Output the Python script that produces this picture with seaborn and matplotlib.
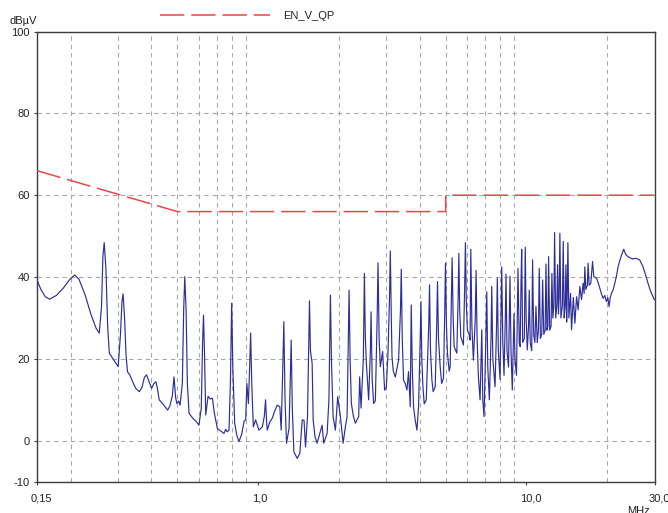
import matplotlib
matplotlib.use("Agg")
import matplotlib.pyplot as plt
import matplotlib.transforms as mtransforms
from matplotlib.ticker import FixedLocator, NullFormatter, FixedFormatter
import seaborn as sns
import pandas as pd

# ---------------- data ----------------
# Limit line EN_V_QP (MHz, dBuV)
limit_freq = [0.15, 0.5, 5.0, 5.0, 30.0]
limit_level = [66, 56, 56, 60, 60]

# Measured trace, band 0.15 - 1 MHz
band1_freq = [0.150, 0.155, 0.161, 0.167, 0.177, 0.188, 0.198, 0.207, 0.215, 0.227,
              0.238, 0.249, 0.256, 0.261, 0.264, 0.267, 0.271, 0.275, 0.279, 0.288,
              0.301, 0.307, 0.311, 0.314, 0.318, 0.322, 0.326, 0.333, 0.341, 0.350,
              0.361, 0.369, 0.377, 0.384, 0.392, 0.401, 0.409, 0.416, 0.421, 0.428,
              0.442, 0.460, 0.469, 0.479, 0.486, 0.493, 0.498, 0.506, 0.512, 0.522,
              0.528, 0.533, 0.539, 0.545, 0.553, 0.571, 0.586, 0.602, 0.614, 0.621,
              0.626, 0.631, 0.638, 0.651, 0.663, 0.676, 0.686, 0.705, 0.725, 0.746,
              0.757, 0.767, 0.779, 0.789, 0.797, 0.805, 0.818, 0.832, 0.848, 0.868,
              0.887, 0.899, 0.908, 0.920, 0.930, 0.938, 0.947, 0.960, 0.979]
band1_level = [39.3, 37.0, 35.2, 34.6, 35.5, 37.3, 39.3, 40.5, 39.5, 35.5,
               31.0, 27.5, 26.3, 33.0, 45.0, 48.4, 42.0, 28.0, 21.4, 20.0,
               18.1, 26.0, 34.0, 35.9, 30.0, 21.0, 16.9, 16.0, 14.4, 12.8,
               12.0, 13.0, 15.5, 16.1, 14.5, 12.8, 14.0, 14.4, 13.0, 10.0,
               9.0, 7.5, 8.5, 11.0, 15.6, 10.5, 9.1, 9.7, 8.7, 14.0,
               32.0, 40.1, 32.0, 14.0, 6.7, 5.5, 4.8, 3.8, 8.0, 24.0,
               30.7, 22.0, 6.3, 10.9, 10.2, 10.4, 7.0, 3.0, 2.4, 1.8,
               2.8, 2.2, 2.6, 15.0, 33.6, 18.0, 4.3, 1.5, -0.2, 1.5,
               4.8, 5.1, 14.0, 9.1, 18.0, 26.3, 14.0, 3.4, 5.1]

# Measured trace, band 1 - 5 MHz
band2_freq = [1.007, 1.037, 1.055, 1.066, 1.077, 1.082, 1.104, 1.129, 1.152, 1.179,
              1.205, 1.219, 1.236, 1.247, 1.260, 1.276, 1.304, 1.318, 1.328, 1.341,
              1.359, 1.399, 1.430, 1.460, 1.483, 1.502, 1.528, 1.543, 1.554, 1.567,
              1.590, 1.604, 1.629, 1.660, 1.693, 1.732, 1.756, 1.808, 1.836, 1.849,
              1.860, 1.876, 1.903, 1.941, 1.980, 2.026, 2.074, 2.115, 2.146, 2.166,
              2.183, 2.202, 2.226, 2.265, 2.304, 2.370, 2.390, 2.419, 2.467, 2.489,
              2.510, 2.532, 2.582, 2.620, 2.636, 2.661, 2.695, 2.735, 2.777, 2.798,
              2.825, 2.854, 2.911, 2.961, 3.004, 3.048, 3.088, 3.109, 3.136, 3.155,
              3.190, 3.245, 3.338, 3.393, 3.416, 3.445, 3.483, 3.534, 3.586, 3.636,
              3.689, 3.721, 3.753, 3.795, 3.851, 3.907, 3.961, 4.019, 4.044, 4.074,
              4.113, 4.159, 4.231, 4.323, 4.353, 4.390, 4.443, 4.492, 4.570, 4.629,
              4.661, 4.701, 4.770, 4.831, 4.906, 4.961, 4.991]
band2_level = [2.6, 3.4, 6.0, 10.0, 4.0, 2.6, 4.5, 5.5, 7.2, 8.7,
               8.3, 2.6, 18.0, 29.1, 10.0, -0.6, 3.0, 15.0, 24.6, 8.0,
               -2.7, -4.3, -3.1, 5.1, 5.0, -1.5, 6.0, 22.0, 34.2, 22.0,
               18.9, 5.1, 1.0, -0.6, 1.5, 3.8, -0.6, 1.8, 10.0, 25.0,
               35.6, 20.0, 5.9, 2.6, 10.8, 5.9, -0.6, 3.5, 5.9, 22.0,
               36.8, 20.0, 9.1, 6.0, 4.3, 5.9, 15.6, 8.0, 20.0, 40.9,
               25.0, 18.9, 10.0, 22.0, 31.5, 15.0, 9.1, 9.8, 30.0, 43.5,
               25.0, 18.1, 21.8, 12.4, 13.0, 21.4, 35.0, 46.4, 30.0, 20.5,
               17.0, 15.6, 19.7, 32.0, 41.9, 25.0, 14.8, 14.0, 12.4, 16.9,
               8.3, 33.2, 18.0, 8.3, 5.0, 2.6, 8.3, 25.0, 34.0, 20.0,
               13.2, 9.0, 10.0, 28.0, 38.1, 22.0, 14.8, 12.0, 13.2, 28.0,
               38.9, 25.0, 18.1, 14.0, 15.3, 32.0, 43.4]

# Measured trace, band 5 - 30 MHz
band3_freq = [5.034, 5.077, 5.152, 5.196, 5.253, 5.284, 5.331, 5.376, 5.502, 5.564,
              5.598, 5.640, 5.693, 5.822, 5.887, 5.922, 5.973, 6.024, 6.112, 6.166,
              6.203, 6.262, 6.342, 6.447, 6.491, 6.547, 6.620, 6.717, 6.816, 6.875,
              6.950, 7.059, 7.113, 7.175, 7.274, 7.379, 7.424, 7.494, 7.637, 7.736,
              7.788, 7.856, 7.971, 8.039, 8.088, 8.164, 8.249, 8.341, 8.391, 8.463,
              8.573, 8.639, 8.683, 8.758, 8.855, 8.939, 8.985, 9.062, 9.180, 9.252,
              9.298, 9.402, 9.475, 9.541, 9.598, 9.681, 9.822, 9.897, 9.975, 10.07,
              10.18, 10.24, 10.33, 10.46, 10.54, 10.64, 10.75, 10.85, 10.97, 11.08,
              11.16, 11.27, 11.40, 11.49, 11.60, 11.74, 11.82, 11.92, 12.02, 12.09,
              12.21, 12.35, 12.44, 12.54, 12.65, 12.73, 12.85, 12.98, 13.06, 13.16,
              13.24, 13.32, 13.44, 13.61, 13.71, 13.82, 13.94, 14.03, 14.12, 14.19,
              14.27, 14.39, 14.60, 14.72, 14.95, 15.15, 15.37, 15.58, 15.81, 16.04,
              16.26, 16.40, 16.50, 16.64, 16.86, 16.97, 17.12, 17.37, 17.63, 17.82,
              18.24, 18.53, 18.76, 19.01, 19.30, 19.58, 19.87, 20.09, 20.32, 20.52,
              20.74, 21.06, 21.33, 21.61, 21.95, 22.27, 22.65, 23.04, 23.44, 23.89,
              24.46, 24.95, 25.53, 26.42, 27.18, 27.81, 28.37, 29.03, 30.0]
band3_level = [28.0, 21.4, 17.0, 18.1, 35.0, 44.7, 30.0, 23.0, 21.4, 35.0,
               45.8, 32.0, 25.4, 23.4, 38.0, 48.4, 33.0, 27.1, 26.0, 24.6,
               46.8, 28.0, 19.7, 30.0, 41.6, 25.0, 15.6, 10.0, 27.1, 10.0,
               5.9, 25.0, 36.4, 18.0, 10.0, 25.0, 37.7, 20.0, 13.2, 28.0,
               39.7, 22.0, 15.0, 32.0, 42.5, 24.0, 16.0, 30.0, 40.7, 22.0,
               18.0, 32.0, 40.2, 22.0, 12.4, 24.0, 31.1, 20.0, 16.0, 32.0,
               42.1, 23.8, 23.0, 38.0, 46.8, 24.0, 25.0, 47.3, 30.0, 22.2,
               28.0, 36.8, 24.0, 22.0, 44.2, 26.0, 24.0, 32.8, 24.0, 27.0,
               42.1, 25.0, 26.0, 39.3, 26.0, 27.0, 43.2, 27.0, 28.0, 45.0,
               27.0, 28.0, 40.9, 30.0, 33.0, 50.9, 30.0, 33.0, 43.0, 31.0,
               35.0, 50.7, 30.0, 33.0, 48.7, 30.0, 33.0, 43.0, 29.0, 36.0,
               48.4, 30.0, 36.0, 27.1, 35.0, 28.7, 35.2, 32.0, 37.7, 34.5,
               38.5, 36.0, 42.5, 37.0, 38.0, 43.4, 38.0, 38.5, 43.8, 40.1,
               39.7, 38.5, 37.3, 36.0, 34.8, 35.5, 34.0, 35.0, 32.8, 35.0,
               36.0, 37.0, 38.5, 40.0, 42.5, 44.0, 45.5, 46.8, 45.5, 45.0,
               44.6, 44.4, 44.6, 44.2, 42.5, 40.5, 38.5, 36.5, 34.4]

x_tick_values = [0.15, 1.0, 10.0, 30.0]
x_tick_labels = ["0,15", "1,0", "10,0", "30,0"]
x_grid_values = [0.2, 0.3, 0.4, 0.5, 0.6, 0.7, 0.8, 0.9, 1, 2, 3, 4, 5, 6, 7, 8, 9, 10, 20]
y_tick_values = [-10, 0, 20, 40, 60, 80, 100]
y_tick_labels = ["-10", "0", "20", "40", "60", "80", "100"]

trace = pd.DataFrame({"freq": band1_freq + band2_freq + band3_freq,
                      "level": band1_level + band2_level + band3_level})
limit = pd.DataFrame({"freq": limit_freq, "level": limit_level})

# ---------------- style ----------------
sns.set_theme(style="white")
plt.rcParams["font.family"] = ["Liberation Sans", "DejaVu Sans"]
plt.rcParams["lines.scale_dashes"] = False

W, H = 668, 513
fig = plt.figure(figsize=(W / 100, H / 100), dpi=100)
fig.patch.set_facecolor("white")
ax = fig.add_axes([37 / W, (H - 481.7) / H, (654.5 - 37) / W, (481.7 - 31.5) / H])
ax.set_facecolor("white")

sns.lineplot(data=trace, x="freq", y="level", ax=ax, color="#2e2e9a",
             linewidth=0.85, estimator=None, sort=False, label="_nolegend_", zorder=3)
sns.lineplot(data=limit, x="freq", y="level", ax=ax, color="#e8474a",
             linewidth=1.1, estimator=None, sort=False, label="EN_V_QP", zorder=4)
ax.lines[-1].set_dashes((17.5, 5.0))

ax.set_xscale("log")
ax.set_xlim(0.15, 30)
ax.set_ylim(-10, 100)

ax.xaxis.set_major_locator(FixedLocator(x_tick_values))
ax.xaxis.set_major_formatter(FixedFormatter(x_tick_labels))
ax.xaxis.set_minor_locator(FixedLocator(x_grid_values))
ax.xaxis.set_minor_formatter(NullFormatter())
ax.yaxis.set_major_locator(FixedLocator(y_tick_values))
ax.yaxis.set_major_formatter(FixedFormatter(y_tick_labels))

grid_kw = dict(color="#a8a8a8", linewidth=0.8, linestyle=(0, (3.2, 2.8)))
ax.grid(False)
ax.xaxis.grid(True, which="minor", **grid_kw)
ax.yaxis.grid(True, which="major", **grid_kw)
ax.set_axisbelow(True)

ax.tick_params(axis="x", which="major", direction="out", length=2.5, width=0.8,
               color="#404040", pad=6, labelsize=8, labelcolor="#222222", bottom=True)
ax.tick_params(axis="x", which="minor", length=0)
ax.tick_params(axis="y", which="major", direction="out", length=2.5, width=0.8,
               color="#404040", pad=2.5, labelsize=8, labelcolor="#222222", left=True)

offset = mtransforms.ScaledTranslation(-6 / 100, 0, fig.dpi_scale_trans)
for lab in ax.get_xticklabels():
    lab.set_horizontalalignment("left")
    lab.set_transform(lab.get_transform() + offset)

for sp in ax.spines.values():
    sp.set_visible(True)
    sp.set_color("#3c3c3c")
    sp.set_linewidth(1.0)

ax.set_xlabel("")
ax.set_ylabel("")

ax.text(0.0, 1.012, "dBµV", transform=ax.transAxes, ha="right", va="bottom",
        fontsize=8, color="#222222")
fig.text(638 / W, (H - 506.5) / H, "MHz", ha="center", va="top", fontsize=8,
         color="#222222")

leg = ax.legend(loc="center left", bbox_to_anchor=((160 - 37) / (654.5 - 37), 1 + (31.5 - 16) / 450.2),
                frameon=False, fontsize=8, handlelength=9.9, handletextpad=1.15,
                borderpad=0, borderaxespad=0)
for t in leg.get_texts():
    t.set_color("#222222")

fig.savefig("out.png", dpi=100, facecolor="white")
